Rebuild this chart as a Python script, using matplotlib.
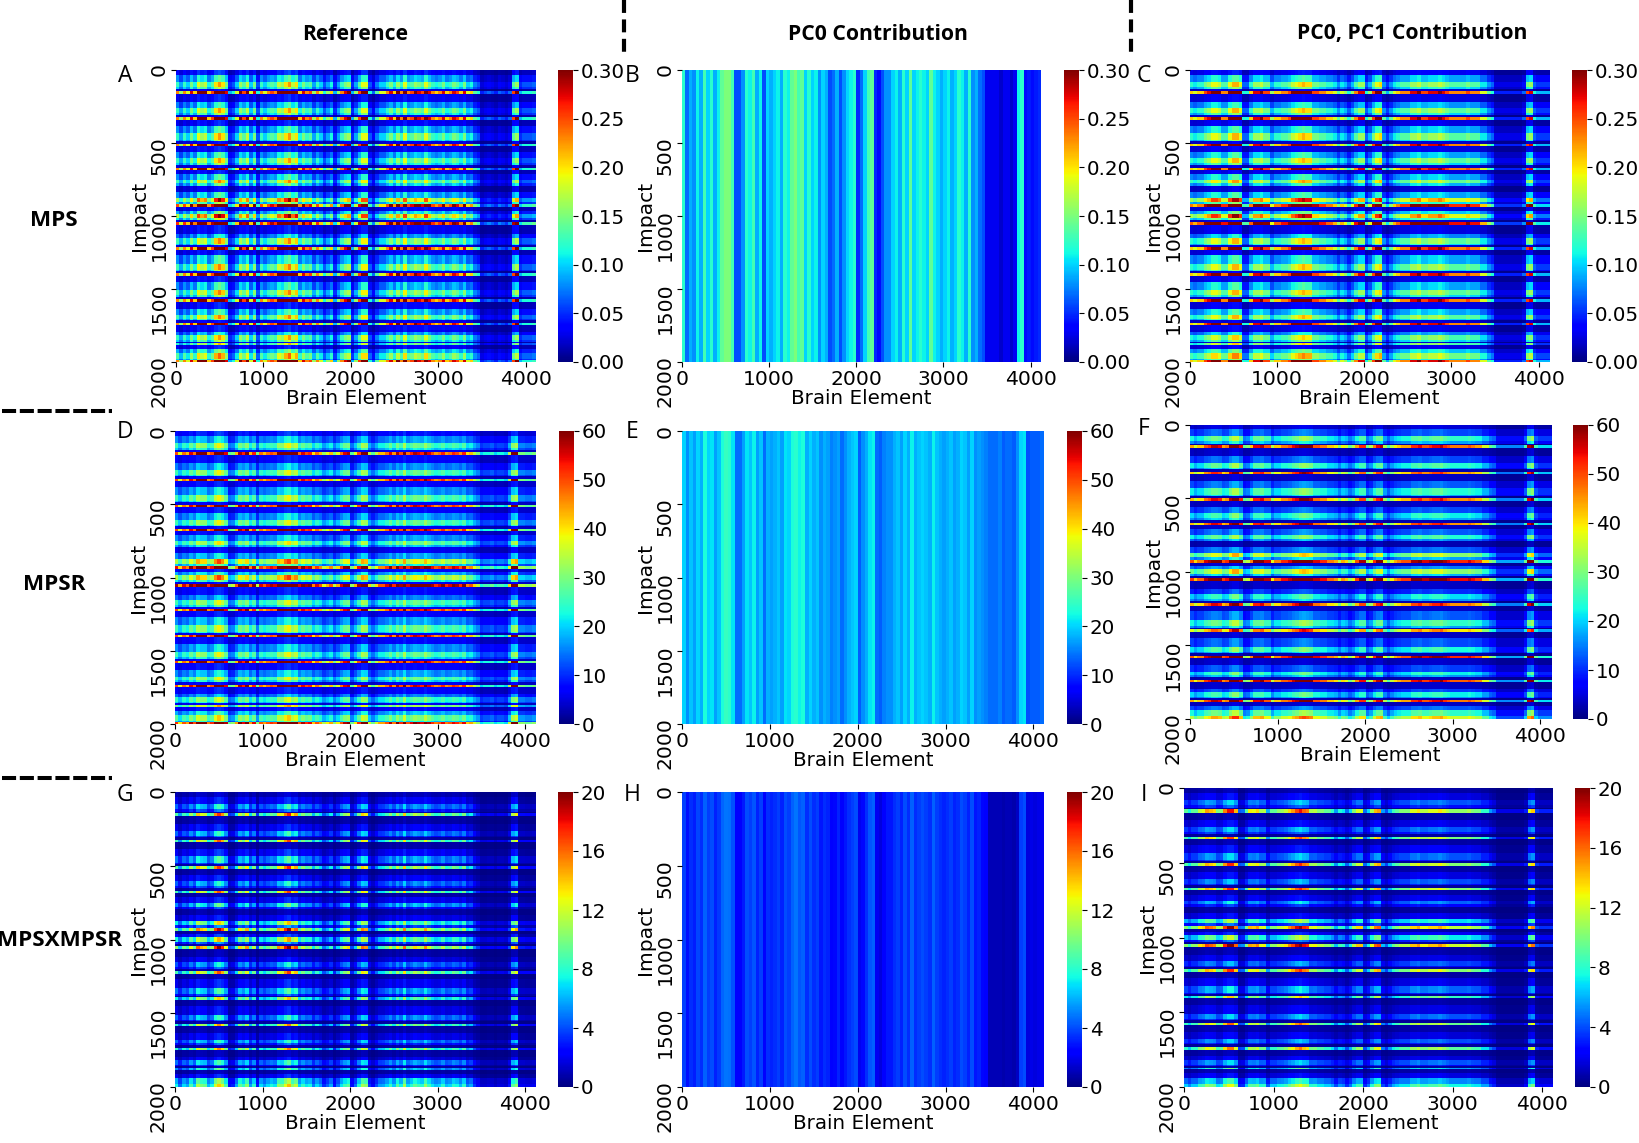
import numpy as np
import matplotlib
matplotlib.use('Agg')
from matplotlib import pyplot as plt
from matplotlib.lines import Line2D
from matplotlib.transforms import ScaledTranslation

W, H = 1639, 1143
BIN = 40  # brain elements per column value

# Impact bands, start of each band
band_starts = [0, 35, 80, 115, 133, 143, 165,
               217, 263, 297, 305, 325, 340,
               384, 434, 480, 488, 505, 522,
               560, 606, 640, 650, 668, 682,
               713, 754, 777, 795,
               834, 875, 905, 920, 940,
               965, 983, 1017, 1028, 1042, 1062,
               1120, 1154, 1189, 1198, 1214, 1232,
               1269, 1326, 1371, 1380, 1392, 1408,
               1451, 1509, 1543, 1555, 1570, 1587,
               1634, 1680, 1703, 1715, 1735, 1750,
               1794, 1817, 1851, 1860, 1870, 1882,
               1909, 1940, 1977, 1983]

# Row level of each band
gain_a = [.35, .8, 1.25, 1.0, .25, 2.3, .3,
          .75, 1.25, 1.0, .25, 2.3, .3,
          .8, 1.25, 1.0, .25, 2.3, .3,
          .8, 1.25, 1.0, .25, 2.3, .3,
          .8, 1.3, .9, .25,
          .8, 1.65, 1.0, 2.5, .3,
          .9, 1.7, 1.1, .25, 2.6, .3,
          .7, 1.3, 1.0, .25, 2.3, .3,
          .8, 1.3, 1.0, .25, 2.3, .3,
          .8, 1.3, 1.0, .25, 2.3, .3,
          .8, 1.3, 1.0, .25, 2.3, .3,
          .7, 1.25, 1.0, .25, 1.2, .3,
          .9, 1.35, 1.0, 2.3]
gain_c = [.3, .85, 1.35, 1.0, .2, 2.3, .25,
          .8, 1.35, 1.0, .2, 2.3, .25,
          .85, 1.35, 1.0, .2, 2.3, .25,
          .85, 1.35, 1.0, .2, 2.3, .25,
          .85, 1.4, .9, .2,
          .85, 1.8, 1.0, 2.6, .25,
          .95, 1.85, 1.1, .2, 2.7, .25,
          .75, 1.35, 1.0, .2, 2.3, .25,
          .85, 1.35, 1.0, .2, 2.3, .25,
          .85, 1.35, 1.0, .2, 2.3, .25,
          .85, 1.35, 1.0, .2, 2.3, .25,
          .75, 1.3, 1.0, .2, 1.3, .25,
          .95, 1.45, 1.0, 2.3]
gain_d = [.4, .8, 1.3, 1.0, .3, 2.5, .35,
          .75, 1.3, 1.0, .3, 2.5, .35,
          .8, 1.3, 1.0, .3, 2.5, .35,
          .8, 1.3, 1.0, .3, 2.5, .35,
          .8, 1.35, .9, .3,
          .8, 1.7, 1.0, 2.7, .35,
          .9, 1.7, 1.1, .3, 2.9, .35,
          .7, 1.3, 1.0, .3, 2.5, .35,
          .8, 1.3, 1.0, .3, 2.5, .35,
          .8, 1.3, 1.0, .3, 2.5, .35,
          .8, 1.3, 1.0, .3, 2.5, .35,
          .7, 1.25, 1.0, .3, 1.5, .35,
          .9, 1.4, 1.0, 2.6]
gain_f = [.25, .65, 1.35, .95, .15, 2.6, .2,
          .65, 1.3, .95, .15, 2.4, .2,
          .7, 1.3, .95, .15, 2.5, .2,
          .65, 1.2, .95, .15, 2.5, .2,
          .7, 1.3, .8, .15,
          .7, 1.7, .95, 2.9, .2,
          .8, 1.7, 1.0, .15, 3.0, .2,
          .55, 1.15, .9, .15, 2.5, .2,
          .7, 1.35, .95, .15, 2.2, .2,
          .65, 1.25, .9, .15, 2.9, .2,
          .6, 1.2, .9, .15, 2.7, .2,
          .6, 1.2, .9, .15, 2.6, .2,
          .7, 1.35, .95, 2.0]
gain_g = [.25, .55, 1.3, .8, .2, 2.6, .2,
          .55, 1.3, .8, .2, 2.5, .2,
          .6, 1.4, .8, .2, 2.6, .2,
          .55, 1.25, .8, .2, 2.5, .2,
          .55, 1.5, .7, .2,
          .5, 2.1, .9, 2.9, .2,
          .65, 2.2, .9, .2, 3.0, .2,
          .45, 1.2, .75, .2, 2.5, .2,
          .55, 1.4, .75, .2, 2.1, .2,
          .5, 1.3, .75, .2, 2.3, .2,
          .5, 1.3, .75, .2, 2.3, .2,
          .45, 1.35, .75, .2, 1.5, .2,
          .55, 1.7, .85, 2.1]
gain_i = [.2, .5, 1.2, .8, .15, 3.1, .2,
          .5, 1.2, .8, .15, 2.9, .2,
          .55, 1.2, .8, .15, 3.0, .2,
          .5, 1.15, .8, .15, 3.0, .2,
          .5, 1.3, .7, .15,
          .5, 2.0, .85, 3.4, .2,
          .6, 2.1, .9, .15, 3.5, .2,
          .45, 1.1, .7, .15, 3.0, .2,
          .5, 1.3, .75, .15, 2.4, .2,
          .45, 1.2, .75, .15, 2.8, .2,
          .45, 1.15, .75, .15, 2.7, .2,
          .45, 1.2, .75, .15, 1.7, .2,
          .5, 1.5, .8, 2.2]

# Column levels, one value per 40 elements
mps_ref = [.10, .07, .10, .08, .12, .09, .15, .13, .14, .09, .11, .16, .18, .16, .12, .04, .05, .08,
           .13, .11, .14, .08, .12, .05, .10, .08, .10, .11, .10, .14, .13, .16, .18, .14, .16, .09,
           .12, .10, .11, .07, .10, .08, .05, .07, .09, .04, .07, .10, .12, .13, .04, .07, .11, .15,
           .15, .05, .03, .06, .08, .08, .10, .12, .09, .13, .10, .15, .10, .11, .13, .12, .11, .15,
           .12, .10, .09, .10, .12, .09, .10, .12, .11, .09, .12, .08, .09, .06, .05, .02, .025, .03,
           .025, .02, .03, .025, .02, .03, .11, .13, .04, .05, .05, .05, .055]
mps_pc0 = [.12, .07, .09, .08, .11, .09, .13, .10, .12, .09, .11, .14, .15, .15, .13, .06, .06, .08,
           .12, .11, .13, .09, .11, .06, .10, .09, .10, .11, .09, .12, .11, .14, .15, .13, .14, .10,
           .12, .10, .11, .08, .10, .09, .06, .07, .09, .06, .08, .10, .11, .12, .05, .07, .10, .13,
           .14, .05, .04, .06, .08, .08, .10, .11, .09, .12, .10, .14, .10, .11, .12, .11, .10, .14,
           .11, .10, .09, .10, .11, .09, .10, .12, .11, .09, .12, .08, .09, .07, .06, .03, .03, .03,
           .03, .02, .03, .03, .02, .03, .11, .12, .04, .045, .04, .045, .05]
mps_pc1 = [.09, .08, .09, .09, .11, .12, .14, .14, .13, .10, .10, .14, .16, .16, .14, .05, .05, .09,
           .12, .12, .13, .11, .11, .07, .09, .09, .10, .10, .11, .13, .14, .15, .16, .15, .15, .11,
           .11, .10, .10, .09, .09, .08, .06, .08, .07, .05, .07, .10, .12, .12, .05, .07, .11, .14,
           .15, .06, .04, .06, .08, .09, .10, .10, .10, .12, .12, .13, .11, .11, .12, .12, .12, .13,
           .12, .11, .10, .10, .10, .10, .10, .11, .10, .10, .10, .08, .08, .06, .05, .02, .02, .02,
           .02, .02, .02, .02, .02, .03, .11, .12, .05, .04, .04, .04, .04]
mpsr_ref = [20, 15, 19, 17, 22, 19, 26, 24, 24, 18, 20, 27, 30, 27, 22, 11, 12, 17,
            23, 21, 24, 17, 21, 12, 19, 17, 19, 20, 19, 25, 24, 28, 30, 25, 27, 19,
            22, 20, 21, 16, 19, 17, 13, 15, 17, 12, 15, 19, 22, 23, 11, 15, 20, 26,
            25, 14, 11, 14, 17, 17, 19, 22, 18, 23, 20, 26, 19, 21, 23, 22, 21, 25,
            22, 20, 18, 19, 21, 18, 19, 21, 20, 18, 21, 16, 17, 14, 12, 8, 9, 9,
            10, 8, 9, 9, 8, 14, 24, 26, 12, 12, 11, 11, 12]
mpsr_pc0 = [20, 16, 19, 17, 20, 18, 23, 20, 21, 17, 19, 23, 25, 24, 21, 14, 14, 17,
            21, 19, 22, 17, 19, 14, 18, 17, 18, 19, 17, 21, 20, 23, 24, 22, 23, 18,
            20, 18, 19, 16, 18, 17, 15, 16, 17, 14, 16, 18, 19, 20, 13, 16, 18, 21,
            22, 14, 13, 15, 16, 16, 18, 19, 17, 20, 18, 22, 18, 19, 20, 19, 18, 22,
            19, 18, 17, 18, 19, 17, 18, 20, 19, 17, 20, 16, 17, 16, 15, 14, 14, 14,
            15, 13, 14, 14, 13, 16, 20, 21, 12, 13, 13, 13, 14]
mpsr_pc1 = [17, 14, 16, 16, 19, 20, 22, 22, 21, 17, 18, 23, 26, 26, 21, 11, 12, 16,
            21, 21, 22, 19, 19, 13, 16, 16, 18, 18, 19, 21, 22, 24, 25, 24, 23, 19,
            19, 18, 18, 16, 16, 15, 12, 15, 14, 11, 13, 17, 20, 20, 11, 13, 18, 21,
            22, 13, 10, 13, 15, 16, 17, 17, 17, 20, 20, 21, 19, 19, 20, 21, 21, 22,
            20, 19, 18, 18, 18, 18, 18, 19, 18, 17, 17, 14, 14, 11, 10, 6, 6, 6,
            6, 6, 6, 6, 6, 10, 22, 24, 10, 8, 8, 8, 8]
x_ref = [3.5, 2.2, 3.3, 2.8, 4.2, 3.2, 5.4, 4.8, 4.6, 3.0, 3.6, 5.8, 6.6, 5.8, 4.2, 1.3, 1.5, 2.8,
         4.5, 3.9, 5.0, 2.7, 3.9, 1.4, 3.3, 2.7, 3.3, 3.7, 3.4, 5.1, 4.8, 6.0, 6.8, 5.0, 5.6, 3.2,
         4.0, 3.4, 3.6, 2.4, 3.3, 2.7, 1.6, 2.1, 2.8, 1.3, 2.3, 3.4, 4.1, 4.5, 1.3, 2.2, 3.8, 5.3,
         5.0, 1.7, 1.1, 1.9, 2.7, 2.8, 3.3, 4.0, 3.1, 4.4, 3.5, 5.3, 3.3, 3.8, 4.5, 4.1, 3.8, 5.1,
         4.1, 3.4, 3.0, 3.2, 3.9, 3.0, 3.2, 3.9, 3.6, 3.0, 3.9, 2.4, 2.8, 1.7, 1.2, .7, .7, .8,
         .8, .6, .8, .8, .7, 1.4, 4.4, 5.0, 1.0, 1.0, .9, .9, 1.0]
x_pc0 = [3.8, 2.8, 3.4, 3.1, 3.9, 3.4, 4.4, 3.7, 4.0, 3.2, 3.6, 4.5, 4.8, 4.7, 4.1, 2.3, 2.3, 3.0,
         4.0, 3.7, 4.2, 3.2, 3.7, 2.3, 3.4, 3.2, 3.4, 3.7, 3.2, 4.0, 3.7, 4.4, 4.8, 4.2, 4.4, 3.4,
         4.0, 3.4, 3.7, 2.9, 3.4, 3.2, 2.3, 2.6, 3.2, 2.2, 2.9, 3.4, 3.7, 4.0, 2.0, 2.6, 3.4, 4.2,
         4.4, 2.0, 1.7, 2.3, 2.9, 2.9, 3.4, 3.7, 3.2, 4.0, 3.4, 4.4, 3.4, 3.7, 4.0, 3.7, 3.4, 4.4,
         3.7, 3.4, 3.2, 3.4, 3.7, 3.2, 3.4, 4.0, 3.7, 3.2, 4.0, 2.9, 3.2, 2.6, 2.3, 1.0, 1.0, 1.0,
         1.0, .8, 1.0, 1.0, .8, 1.2, 3.7, 4.0, 1.7, 1.8, 1.7, 1.8, 2.0]
x_pc1 = [3.0, 2.4, 3.0, 3.0, 3.8, 4.0, 4.8, 4.6, 4.4, 3.2, 3.4, 5.0, 5.8, 5.8, 4.6, 1.4, 1.5, 2.9,
         4.2, 4.1, 4.4, 3.6, 3.7, 1.9, 3.0, 3.0, 3.4, 3.5, 3.8, 4.4, 4.8, 5.4, 5.8, 5.2, 5.0, 3.6,
         3.7, 3.3, 3.3, 3.0, 3.0, 2.6, 1.8, 2.5, 2.3, 1.5, 2.2, 3.3, 4.0, 4.0, 1.5, 2.2, 3.6, 4.6,
         4.8, 1.8, 1.3, 2.0, 2.7, 3.0, 3.3, 3.3, 3.3, 4.0, 4.0, 4.3, 3.7, 3.7, 4.0, 4.0, 4.0, 4.3,
         4.0, 3.7, 3.4, 3.4, 3.4, 3.4, 3.4, 3.6, 3.3, 3.2, 3.2, 2.6, 2.6, 1.8, 1.4, .6, .6, .6,
         .6, .6, .6, .6, .6, 1.0, 4.0, 4.5, 1.2, 1.0, 1.0, 1.0, 1.0]

row_names = ['MPS', 'MPSR', 'MPSXMPSR']
col_names = ['Reference', 'PC0 Contribution', 'PC0, PC1 Contribution']
panel_names = ['A', 'B', 'C', 'D', 'E', 'F', 'G', 'H', 'I']
x_ticks = [0, 1000, 2000, 3000, 4000]
y_ticks = [0, 500, 1000, 1500, 2000]
cbar_ticks = [[0, .05, .10, .15, .20, .25, .30],
              [0, 10, 20, 30, 40, 50, 60],
              [0, 4, 8, 12, 16, 20]]
vmaxes = [.30, 60, 20]

# left, right, top, bottom, colourbar left (pixels in the full image)
boxes = [[176, 536, 70, 362, 558], [682, 1041, 70, 362, 1064], [1190, 1549, 70, 362, 1572],
         [175, 536, 431, 724, 559], [682, 1044, 431, 724, 1067], [1190, 1551, 425, 719, 1573],
         [175, 536, 792, 1087, 558], [682, 1044, 792, 1087, 1067], [1184, 1553, 788, 1087, 1575]]
letter_pos = [[125, 76], [632, 76], [1144, 76], [125, 432], [632, 432], [1144, 429],
              [125, 795], [632, 795], [1144, 795]]


def impact_rows(gain):
    lengths = np.diff(band_starts + [2000])
    return np.repeat(gain, lengths)


panels = [(gain_a, mps_ref), (None, mps_pc0), (gain_c, mps_pc1),
          (gain_d, mpsr_ref), (None, mpsr_pc0), (gain_f, mpsr_pc1),
          (gain_g, x_ref), (None, x_pc0), (gain_i, x_pc1)]

fig = plt.figure(figsize=(W / 100, H / 100), dpi=100)
shift_up = ScaledTranslation(0, 6.5 / 100, fig.dpi_scale_trans)

for i, (gain, col) in enumerate(panels):
    left, right, top, bottom, cleft = boxes[i]
    ax = fig.add_axes([left / W, 1 - bottom / H, (right - left) / W, (bottom - top) / H])
    if gain is None:
        data = np.tile(col, (2000, 1))
    else:
        data = np.outer(impact_rows(gain), col)
    vmax = vmaxes[i // 3]
    im = ax.imshow(data, cmap='jet', vmin=0, vmax=vmax, aspect='auto',
                   extent=[0, len(col) * BIN, 2000, 0], interpolation='nearest')
    ax.set_xticks(x_ticks)
    ax.set_yticks(y_ticks)
    ax.tick_params(labelsize=14.6, length=3.5, width=0.8, pad=2)
    for lab in ax.get_yticklabels():
        lab.set_rotation(90)
        lab.set_va('top')
        lab.set_transform(lab.get_transform() + shift_up)
    ax.set_xlabel('Brain Element', fontsize=14.3, labelpad=0)
    ax.set_ylabel('Impact', fontsize=14.6, labelpad=0)
    for s in ax.spines.values():
        s.set_visible(False)

    cax = fig.add_axes([cleft / W, 1 - bottom / H, 15 / W, (bottom - top) / H])
    cb = fig.colorbar(im, cax=cax)
    cb.set_ticks(cbar_ticks[i // 3])
    if i // 3 == 0:
        cb.ax.set_yticklabels(['%.2f' % t for t in cbar_ticks[0]])
    cb.ax.tick_params(labelsize=14.3, length=3.5, width=0.8, pad=2)
    cb.outline.set_visible(False)

    fig.text(letter_pos[i][0] / W, 1 - letter_pos[i][1] / H, panel_names[i],
             fontsize=16.5, family='Open Sans', ha='center', va='center')

for name, x in zip(col_names, [355, 878, 1412]):
    fig.text(x / W, 1 - 34 / H, name, fontsize=15.2, family='Open Sans',
             weight='bold', ha='center', va='center')
for name, x, y in zip(row_names, [54, 54, 60], [220, 585, 941]):
    fig.text(x / W, 1 - y / H, name, fontsize=16.2, family='Open Sans',
             weight='bold', ha='center', va='center')

# dashed separators between columns and rows
for x in [624, 1131]:
    fig.add_artist(Line2D([x / W, x / W], [1, 1 - 52 / H], color='black', lw=3,
                          dashes=(3.1, 1.56)))
for y in [411, 778]:
    fig.add_artist(Line2D([2 / W, 112 / W], [1 - y / H, 1 - y / H], color='black', lw=2.9,
                          dashes=(3.5, .92)))

fig.savefig('out.png', dpi=100)
